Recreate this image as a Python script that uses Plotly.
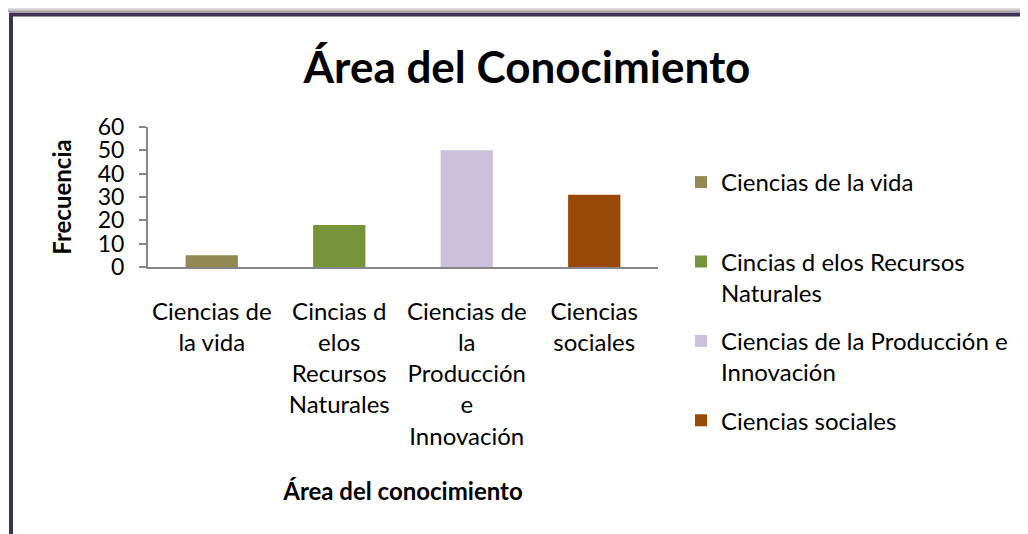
import plotly.graph_objects as go

# ---------------------------------------------------------------------------
# Data
# ---------------------------------------------------------------------------
categories = [
    "Ciencias de la vida",
    "Cincias d elos Recursos Naturales",
    "Ciencias de la Producción e Innovación",
    "Ciencias sociales",
]
tick_labels = [
    "Ciencias de<br>la vida",
    "Cincias d<br>elos<br>Recursos<br>Naturales",
    "Ciencias de<br>la<br>Producción<br>e<br>Innovación",
    "Ciencias<br>sociales",
]
legend_labels = [
    "Ciencias de la vida<br> ",
    "Cincias d elos Recursos<br>Naturales",
    "Ciencias de la Producción e<br>Innovación",
    "Ciencias sociales<br> ",
]
frecuencia = [5, 18, 50, 31]
colors = ["#938953", "#77933C", "#CCC1DA", "#984807"]

FONT = "Lato"
AXIS_COLOR = "#868686"

# the page body has an 8px margin, so the figure is a bit smaller than the window
OFF = 8
W, H = 1028 - OFF, 534 - OFF
# plot area, in page pixels
PL, PR, PT, PB = 148, 658, 127, 267
L, T = PL - OFF, PT - OFF
R, B = W - (PR - OFF), H - (PB - OFF)
PW = PR - PL
PH = PB - PT


def px_x(x):
    return (x - PL) / PW


def px_y(y):
    return (PB - y) / PH


fig = go.Figure()
for i, (cat, val, col, leg) in enumerate(zip(categories, frecuencia, colors, legend_labels)):
    fig.add_trace(go.Bar(
        x=[cat], y=[val],
        name=leg,
        legendgroup=f"g{i}",
        marker_color=col,
        marker_line_width=0,
        width=0.41,
        hovertemplate=f"{cat}: %{{y}}<extra></extra>",
    ))

# outer frame shadow + border
shapes = []
shadow = ["#dedede", "#cfcfcf", "#bdbdbd", "#a8a8a8"]
for i, c in enumerate(shadow):
    shapes.append(dict(
        type="rect", xref="paper", yref="paper", layer="below",
        x0=px_x(0), x1=px_x(1100), y0=px_y(OFF + i + 1), y1=px_y(OFF + i),
        fillcolor=c, line_width=0,
    ))
shapes.append(dict(
    type="rect", xref="paper", yref="paper", layer="below",
    x0=px_x(11), x1=px_x(1100), y0=px_y(600), y1=px_y(14.5),
    fillcolor="white", line=dict(color="#403152", width=4),
))

fig.update_layout(
    width=W, height=H,
    paper_bgcolor="white",
    plot_bgcolor="white",
    font=dict(family=FONT, color="black", size=24),
    margin=dict(l=L, r=R, t=T, b=B, autoexpand=False),
    barmode="overlay",
    title=dict(
        text="<b>Área del Conocimiento</b>",
        font=dict(size=44, family=FONT, color="black"),
        x=px_x(527), xref="paper", xanchor="center",
        y=1 - (68 - OFF) / H, yanchor="middle",
    ),
    showlegend=True,
    legend=dict(
        x=px_x(681), xanchor="left",
        y=px_y(160), yanchor="top",
        font=dict(size=24, family=FONT, color="black"),
        valign="top",
        tracegroupgap=14,
        maxheight=500,
        bgcolor="rgba(0,0,0,0)",
    ),
    shapes=shapes,
)

fig.update_xaxes(
    tickmode="array",
    tickvals=categories,
    ticktext=tick_labels,
    tickfont=dict(size=24, family=FONT, color="black"),
    ticks="",
    ticklabelstandoff=22,
    showline=True, linecolor=AXIS_COLOR, linewidth=2,
    showgrid=False,
    automargin=False,
    title=dict(
        text="<b>Área del conocimiento</b>",
        font=dict(size=24, family=FONT, color="black"),
        standoff=35,
    ),
    range=[-0.5, 3.5],
)
fig.update_yaxes(
    range=[0, 60],
    dtick=10,
    tickfont=dict(size=23, family=FONT, color="black"),
    ticks="outside", ticklen=7, tickcolor=AXIS_COLOR, tickwidth=2,
    ticklabelstandoff=10,
    showline=True, linecolor=AXIS_COLOR, linewidth=2,
    showgrid=False,
    zeroline=False,
    automargin=False,
    title=dict(
        text="<b>Frecuencia</b>",
        font=dict(size=24, family=FONT, color="black"),
        standoff=19,
    ),
)

fig.write_html("out.html")
